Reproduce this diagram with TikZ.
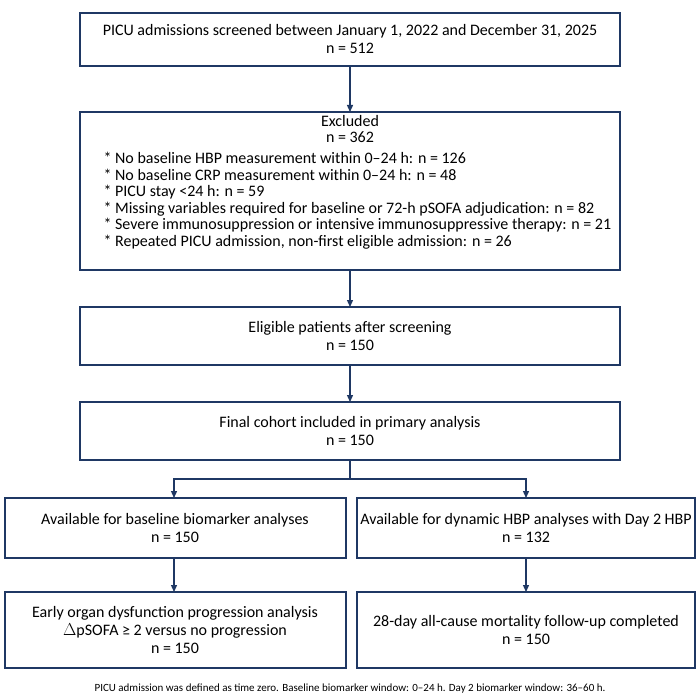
\documentclass[tikz,border=0pt]{standalone}
\usepackage{fontspec}
\setmainfont{Carlito}
\usetikzlibrary{arrows.meta}
\definecolor{navy}{HTML}{1F3864}
\begin{document}
\begin{tikzpicture}[x=1pt,y=-1pt,
  box/.style={draw=navy,line width=1.3pt,fill=white},
  txt/.style={font=\fontsize{16}{18}\selectfont,align=center},
  arr/.style={draw=navy,line width=1.3pt,-{Triangle[length=7pt,width=6pt]}}]
\useasboundingbox[fill=white] (0,0) rectangle (700,700);
\draw[box] (80,13) rectangle (620,66);
\node[txt] (a) at (350,39.5) {PICU admissions screened between January 1, 2022 and December 31, 2025\\n = 512};
\draw[box] (80,112) rectangle (620,270);
\node[txt,font=\fontsize{16}{16.5}\selectfont] (bh) at (350,129) {Excluded\\n = 362};
\node[txt,align=left,anchor=north west,font=\fontsize{16}{16.5}\selectfont] (bl) at (100,149) {* No baseline HBP measurement within 0–24 h: n = 126\\
* No baseline CRP measurement within 0–24 h: n = 48\\
* PICU stay <24 h: n = 59\\
* Missing variables required for baseline or 72-h pSOFA adjudication: n = 82\\
* Severe immunosuppression or intensive immunosuppressive therapy: n = 21\\
* Repeated PICU admission, non-first eligible admission: n = 26};
\draw[box] (80,307) rectangle (620,365);
\node[txt] (c) at (350,336) {Eligible patients after screening\\n = 150};
\draw[box] (80,402) rectangle (620,460);
\node[txt] (d) at (350,431) {Final cohort included in primary analysis\\n = 150};
\draw[box] (5,498) rectangle (346,558);
\node[txt] (e) at (175,528) {Available for baseline biomarker analyses\\n = 150};
\draw[box] (357,498) rectangle (695,558);
\node[txt] (f) at (526,528) {Available for dynamic HBP analyses with Day 2 HBP\\n = 132};
\draw[box] (5,592) rectangle (346,668);
\node[txt] (g) at (175,630) {Early organ dysfunction progression analysis\\$\Delta$pSOFA ≥ 2 versus no progression\\n = 150};
\draw[box] (357,592) rectangle (695,668);
\node[txt] (h) at (526,630) {28-day all-cause mortality follow-up completed\\n = 150};
\node[font=\fontsize{11}{13}\selectfont] (fn) at (350,689) {PICU admission was defined as time zero. Baseline biomarker window: 0–24 h. Day 2 biomarker window: 36–60 h.};
\coordinate (s) at (350,479);
\draw[arr] (350,66) -- (350,112);
\draw[arr] (350,270) -- (350,307);
\draw[arr] (350,365) -- (350,402);
\draw[navy,line width=1.3pt] (350,460) -- (s);
\draw[arr] (s) -| (174,498);
\draw[arr] (s) -| (526,498);
\draw[arr] (174,558) -- (174,592);
\draw[arr] (526,558) -- (526,592);
\end{tikzpicture}
\end{document}
